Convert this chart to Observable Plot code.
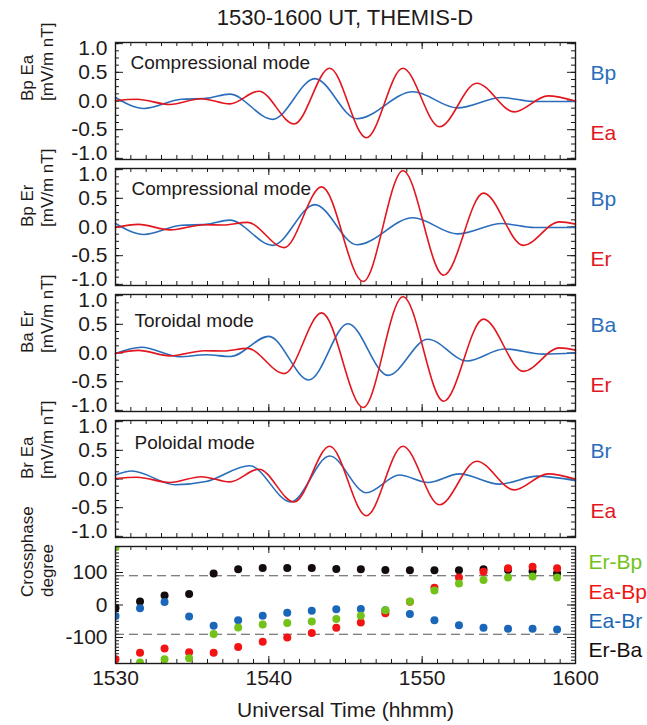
<!DOCTYPE html>
<html>
<head>
<meta charset="utf-8">
<script src="https://cdn.jsdelivr.net/npm/d3@7"></script>
<script src="https://cdn.jsdelivr.net/npm/@observablehq/plot@0.6"></script>
<style>
  html, body { margin: 0; padding: 0; background: #fff; }
  #chart { position: relative; width: 647px; height: 725px; font-family: "Liberation Sans", Arial, Helvetica, sans-serif; color: #1e1a1a; overflow: hidden; }
  #title { position: absolute; left: 0; top: 7px; width: 690px; text-align: center; font-size: 22px; line-height: 22px; }
  .panel { position: absolute; left: 0; }
</style>
</head>
<body>
<div id="chart">
  <div id="title">1530-1600 UT, THEMIS-D</div>
</div>
<script>
// ---------------- DATA (minutes after 15:30 UT) ----------------
// Bp (compressional magnetic component), extrema
const bpTime  = [0, 1.85, 4.3, 5.9, 7.45, 10.25, 13.0, 15.75, 19.4, 22.3, 25.2, 27.3, 30];
const bpValue = [0.06, -0.13, 0.03, 0.045, 0.12, -0.32, 0.39, -0.31, 0.16, -0.12, 0.06, -0.01, -0.01];
// Ea (azimuthal electric field)
const eaTime  = [0, 1.4, 3.55, 5.6, 7.45, 9.35, 11.65, 13.97, 16.36, 18.74, 21.13, 23.56, 26.0, 28.2, 30];
const eaValue = [0.01, 0.03, -0.06, 0.04, -0.05, 0.17, -0.40, 0.57, -0.64, 0.57, -0.45, 0.31, -0.19, 0.09, 0.0];
// Er (radial electric field)
const erTime  = [0, 1.5, 3.56, 5.8, 7.0, 8.6, 11.0, 13.45, 16.15, 18.75, 21.4, 24.0, 26.6, 28.95, 30];
const erValue = [-0.01, 0.045, -0.05, 0.04, 0.035, 0.08, -0.36, 0.70, -0.95, 0.98, -0.84, 0.59, -0.32, 0.09, 0.05];
// Ba (azimuthal magnetic component)
const baTime  = [0, 1.7, 4.2, 5.9, 7.5, 10.0, 12.62, 15.16, 17.77, 20.37, 22.93, 25.36, 27.9, 30];
const baValue = [-0.01, 0.10, -0.065, -0.03, -0.06, 0.29, -0.47, 0.51, -0.39, 0.24, -0.14, 0.07, -0.02, 0.005];
// Br (radial magnetic component)
const brTime  = [0, 1.06, 3.9, 5.9, 8.76, 11.43, 13.97, 16.36, 18.52, 20.37, 22.43, 25.03, 27.53, 30];
const brValue = [0.07, 0.14, -0.10, -0.045, 0.23, -0.40, 0.40, -0.24, 0.07, -0.06, 0.09, -0.09, 0.05, -0.03];

// Cross-phase (degrees)
const phaseTime = [0, 1.6, 3.2, 4.8, 6.4, 8.0, 9.6, 11.2, 12.8, 14.4, 16.0, 17.6, 19.2, 20.8, 22.4, 24.0, 25.6, 27.2, 28.8];
const erBa = [-9, 11, 29, 34, 97, 110, 114, 114, 114, 111, 110, 108, 107, 107, 107, 110, 108, 104, 98];
const eaBr = [-34, -10, 9, -35, -64, -47, -33, -24, -18, -13, -12, -16, -28, -47, -62, -70, -73, -73, -75];
const eaBp = [-167, -147, -134, -145, -147, -129, -113, -100, -86, -70, -54, -25, 10, 53, 85, 102, 113, 118, 113];
const erBp = [178, -177, -167, -164, -89, -69, -60, -55, -51, -43, -33, -16, 11, 45, 66, 77, 85, 88, 85];

// Axis ticks and labels
const xTicks = [0, 10, 20, 30];
const xTickLabels = ["1530", "1540", "1550", "1600"];
const waveYTicks = [-1, -0.5, 0, 0.5, 1];
const waveYTicksInner = [-0.5, 0, 0.5];
const phaseYTicks = [-100, 0, 100];
const phaseYTickLabels = ["-100", "0", "100"];
const phaseRefLines = [90, -90];

// ---------------- STYLE / LAYOUT ----------------
const FONT = '"Liberation Sans", Arial, Helvetica, sans-serif';
const INK = "#1e1a1a";
const BLUE = "#2a6ebb", RED = "#e2161e";
const P_BLACK = "#140c0c", P_BLUE = "#1a66b8", P_RED = "#f21414", P_GREEN = "#72c21a";
const W = 647, ML = 115, MR = 72, INNER_H = 117, MT = 12, MB = 12;
const INNER_W = W - ML - MR;
const xMinor = d3.range(0, 30.001, 1);
const waveYMinor = d3.range(-1, 1.001, 0.125);
const phaseYMinor = d3.range(-180, 180.001, 10);

const zip = (ts, vs) => ts.map((t, i) => ({t, v: vs[i]}));

function tickMarks(yMinor, yMajor) {
  return [
    Plot.tickX(xMinor, {x: d => d, insetTop: INNER_H - 4, stroke: INK, strokeWidth: 1}),
    Plot.tickX(xMinor, {x: d => d, insetBottom: INNER_H - 4, stroke: INK, strokeWidth: 1}),
    Plot.tickX(xTicks, {x: d => d, insetTop: INNER_H - 7, stroke: INK, strokeWidth: 1}),
    Plot.tickX(xTicks, {x: d => d, insetBottom: INNER_H - 7, stroke: INK, strokeWidth: 1}),
    Plot.tickY(yMinor, {y: d => d, insetRight: INNER_W - 4, stroke: INK, strokeWidth: 1}),
    Plot.tickY(yMinor, {y: d => d, insetLeft: INNER_W - 4, stroke: INK, strokeWidth: 1}),
    Plot.tickY(yMajor, {y: d => d, insetRight: INNER_W - 8, stroke: INK, strokeWidth: 1}),
    Plot.tickY(yMajor, {y: d => d, insetLeft: INNER_W - 8, stroke: INK, strokeWidth: 1})
  ];
}

const yLabelStyle = {label: null, tickSize: 0, tickPadding: 8, tickFormat: d => d.toFixed(1), fontSize: 21, fill: INK};

const wavePanels = [
  {top: 42,  name: "Bp Ea", mode: "Compressional mode", modeDx: 15, modeDy: 20, blue: zip(bpTime, bpValue), red: zip(eaTime, eaValue), blueLabel: "Bp", redLabel: "Ea"},
  {top: 168, name: "Bp Er", mode: "Compressional mode", modeDx: 16, modeDy: 20, blue: zip(bpTime, bpValue), red: zip(erTime, erValue), blueLabel: "Bp", redLabel: "Er"},
  {top: 294, name: "Ba Er", mode: "Toroidal mode",      modeDx: 19, modeDy: 26, blue: zip(baTime, baValue), red: zip(erTime, erValue), blueLabel: "Ba", redLabel: "Er"},
  {top: 420, name: "Br Ea", mode: "Poloidal mode",      modeDx: 19, modeDy: 22, blue: zip(brTime, brValue), red: zip(eaTime, eaValue), blueLabel: "Br", redLabel: "Ea"}
];

const chart = document.getElementById("chart");

function place(svg, top) {
  svg.classList.add("panel");
  svg.style.top = top + "px";
  chart.appendChild(svg);
}

for (const p of wavePanels) {
  const svg = Plot.plot({
    width: W, height: INNER_H + MT + MB,
    marginLeft: ML, marginRight: MR, marginTop: MT, marginBottom: MB,
    x: {domain: [0, 30], axis: null},
    y: {domain: [-1.02, 1.02], axis: null},
    style: {background: "transparent", overflow: "visible", fontFamily: FONT, color: INK},
    marks: [
      ...tickMarks(waveYMinor, waveYTicks),
      Plot.line(p.blue, {x: "t", y: "v", curve: "monotone-x", stroke: BLUE, strokeWidth: 1.6}),
      Plot.line(p.red, {x: "t", y: "v", curve: "monotone-x", stroke: RED, strokeWidth: 1.6}),
      Plot.frame({stroke: INK, strokeWidth: 1.4}),
      Plot.axisY({...yLabelStyle, ticks: waveYTicksInner}),
      Plot.axisY({...yLabelStyle, ticks: [waveYTicks[4]], dy: 5}),
      Plot.axisY({...yLabelStyle, ticks: [waveYTicks[0]], dy: -5}),
      Plot.text([p.mode], {frameAnchor: "top-left", dx: p.modeDx, dy: p.modeDy, textAnchor: "start", lineAnchor: "middle", fontSize: 19, fill: INK}),
      Plot.text([p.blueLabel], {frameAnchor: "top-right", dx: 15, dy: 31, textAnchor: "start", lineAnchor: "middle", fontSize: 21, fill: BLUE}),
      Plot.text([p.redLabel], {frameAnchor: "top-right", dx: 15, dy: 91, textAnchor: "start", lineAnchor: "middle", fontSize: 21, fill: RED}),
      Plot.text([p.name + "\n[mV/m nT]"], {frameAnchor: "left", rotate: -90, dx: -79, lineAnchor: "middle", fontSize: 17, lineHeight: 1.2, fill: INK})
    ]
  });
  place(svg, p.top - MT);
}

// ---------------- Cross-phase panel ----------------
const phaseSeries = [
  {label: "Er-Ba", values: erBa, color: P_BLACK, dy: 104},
  {label: "Ea-Br", values: eaBr, color: P_BLUE,  dy: 75},
  {label: "Ea-Bp", values: eaBp, color: P_RED,   dy: 46},
  {label: "Er-Bp", values: erBp, color: P_GREEN, dy: 16}
];
const MB5 = 62;
const phaseMarks = [
  ...tickMarks(phaseYMinor, phaseYTicks),
  Plot.ruleY(phaseRefLines, {y: d => d, stroke: "#555", strokeWidth: 1, strokeDasharray: "9,5"})
];
for (const s of phaseSeries) {
  phaseMarks.push(Plot.dot(zip(phaseTime, s.values), {x: "t", y: "v", r: 4, fill: s.color, stroke: "none", clip: true}));
}
for (const s of phaseSeries) {
  phaseMarks.push(Plot.text([s.label], {frameAnchor: "top-right", dx: 13, dy: s.dy, textAnchor: "start", lineAnchor: "middle", fontSize: 21, fill: s.color}));
}
phaseMarks.push(
  Plot.frame({stroke: INK, strokeWidth: 1.4}),
  Plot.axisY({ticks: phaseYTicks, label: null, tickSize: 0, tickPadding: 8, tickFormat: d => phaseYTickLabels[phaseYTicks.indexOf(d)], fontSize: 21, fill: INK}),
  Plot.axisX({ticks: xTicks, label: null, tickSize: 0, tickPadding: 7, tickFormat: d => xTickLabels[xTicks.indexOf(d)], fontSize: 21, fill: INK}),
  Plot.text(["Universal Time (hhmm)"], {frameAnchor: "bottom", dy: 47, lineAnchor: "middle", fontSize: 21, fill: INK}),
  Plot.text(["Crossphase\ndegree"], {frameAnchor: "left", rotate: -90, dx: -79, dy: -8, lineAnchor: "middle", fontSize: 17, lineHeight: 1.2, fill: INK})
);
const svg5 = Plot.plot({
  width: W, height: INNER_H + MT + MB5,
  marginLeft: ML, marginRight: MR, marginTop: MT, marginBottom: MB5,
  x: {domain: [0, 30], axis: null},
  y: {domain: [-180, 180], axis: null},
  style: {background: "transparent", overflow: "visible", fontFamily: FONT, color: INK},
  marks: phaseMarks
});
place(svg5, 546 - MT);
</script>
</body>
</html>
